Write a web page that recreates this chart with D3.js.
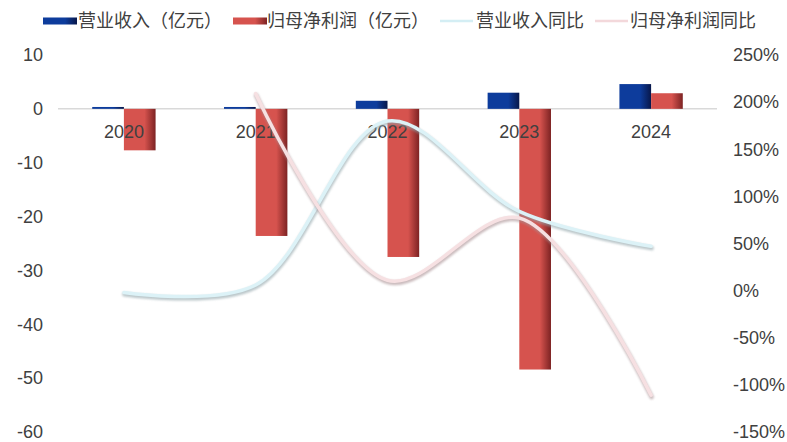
<!DOCTYPE html>
<html>
<head>
<meta charset="utf-8">
<script src="https://cdn.jsdelivr.net/npm/d3@7"></script>
<style>
  body { margin: 0; background: #fff; }
  svg { display: block; font-family: "Liberation Sans", Arial, "Noto Sans CJK SC", sans-serif; }
</style>
</head>
<body>
<div id="chart"></div>
<script>
// data
const years = ['2020', '2021', '2022', '2023', '2024']
const revenue = [0.35, 0.35, 1.5, 3.0, 4.6]          // 营业收入（亿元）
const netProfit = [-7.7, -23.6, -27.5, -48.4, 2.9]   // 归母净利润（亿元）
const revenueYoY = [-2, 6, 180, 84, 47]              // 营业收入同比 (%)
const profitYoY = [null, 209, 11, 77, -111]          // 归母净利润同比 (%)
const leftTicks = [10, 0, -10, -20, -30, -40, -50, -60]
const rightTicks = [250, 200, 150, 100, 50, 0, -50, -100, -150]

const width = 787
const height = 442
const plot = { left: 58, right: 717, top: 55, bottom: 432 }
const textColor = '#404040'

const svg = d3.select('#chart').append('svg')
  .attr('width', width)
  .attr('height', height)

// gradients for the bars and a soft shadow for the lines
const defs = svg.append('defs')
function barGradient (id, main, edge) {
  let g = defs.append('linearGradient').attr('id', id)
    .attr('x1', 0).attr('x2', 1).attr('y1', 0).attr('y2', 0)
  g.append('stop').attr('offset', '0%').attr('stop-color', main)
  g.append('stop').attr('offset', '65%').attr('stop-color', main)
  g.append('stop').attr('offset', '100%').attr('stop-color', edge)
}
barGradient('gBlue', '#0d3c9c', '#08174a')
barGradient('gRed', '#d6534e', '#7d2323')

defs.append('filter').attr('id', 'blur')
  .append('feGaussianBlur').attr('stdDeviation', 1.2)

// scales
const x = d3.scaleBand().domain(years).range([plot.left, plot.right])
const xSub = d3.scaleBand().domain(['rev', 'np'])
  .range([0, x.bandwidth()]).paddingInner(0).paddingOuter(1.08)
const yL = d3.scaleLinear().domain([-60, 10]).range([plot.bottom, plot.top])
const yR = d3.scaleLinear().domain([-150, 250]).range([plot.bottom, plot.top])

// left axis labels
svg.append('g').selectAll('text').data(leftTicks).join('text')
  .attr('x', 43)
  .attr('y', d => yL(d))
  .attr('dy', '0.35em')
  .attr('text-anchor', 'end')
  .attr('font-size', 18)
  .attr('fill', textColor)
  .text(d => d)

// right axis labels
svg.append('g').selectAll('text').data(rightTicks).join('text')
  .attr('x', 733)
  .attr('y', d => yR(d))
  .attr('dy', '0.35em')
  .attr('font-size', 18)
  .attr('fill', textColor)
  .text(d => d + '%')

// zero line
svg.append('line')
  .attr('x1', plot.left).attr('x2', plot.right)
  .attr('y1', yL(0)).attr('y2', yL(0))
  .attr('stroke', '#d9d9d9')
  .attr('stroke-width', 1.5)

// bars
const bars = svg.append('g')
function drawBars (values, key, fill) {
  bars.selectAll('rect.' + key).data(values).join('rect')
    .attr('class', key)
    .attr('x', (d, i) => x(years[i]) + xSub(key))
    .attr('width', xSub.bandwidth())
    .attr('y', d => Math.min(yL(d), yL(0)))
    .attr('height', d => Math.abs(yL(d) - yL(0)))
    .attr('fill', fill)
}
drawBars(revenue, 'rev', 'url(#gBlue)')
drawBars(netProfit, 'np', 'url(#gRed)')

// category labels
svg.append('g').selectAll('text').data(years).join('text')
  .attr('x', d => x(d) + x.bandwidth() / 2)
  .attr('y', 132)
  .attr('dy', '0.35em')
  .attr('text-anchor', 'middle')
  .attr('font-size', 18)
  .attr('fill', textColor)
  .text(d => d)

// smoothed lines with a faint shadow
const line = d3.line()
  .defined(d => d.v != null)
  .x(d => x(d.year) + x.bandwidth() / 2)
  .y(d => yR(d.v))
  .curve(d3.curveCatmullRom.alpha(0.5))

function drawLine (values, color, shadow) {
  let pts = values.map((v, i) => ({ year: years[i], v: v }))
  svg.append('path').datum(pts)
    .attr('d', line)
    .attr('fill', 'none')
    .attr('stroke', shadow)
    .attr('stroke-width', 4.5)
    .attr('stroke-linecap', 'round')
    .attr('opacity', 0.6)
    .attr('filter', 'url(#blur)')
    .attr('transform', 'translate(0.5, 1.8)')
  svg.append('path').datum(pts)
    .attr('d', line)
    .attr('fill', 'none')
    .attr('stroke', color)
    .attr('stroke-width', 3.5)
    .attr('stroke-linecap', 'round')
}
drawLine(revenueYoY, '#dcf2f7', '#8fa3a8')
drawLine(profitYoY, '#f6e0e2', '#a88f92')

// legend
const legend = [
  { name: '营业收入（亿元）', type: 'rect', color: 'url(#gBlue)', x: 43, tx: 78 },
  { name: '归母净利润（亿元）', type: 'rect', color: 'url(#gRed)', x: 233, tx: 267 },
  { name: '营业收入同比', type: 'line', color: '#d4eef4', x: 440, tx: 476 },
  { name: '归母净利润同比', type: 'line', color: '#f3d8db', x: 595, tx: 630 }
]
const lg = svg.append('g').selectAll('g').data(legend).join('g')
lg.filter(d => d.type === 'rect').append('rect')
  .attr('x', d => d.x).attr('y', 17.5)
  .attr('width', 34).attr('height', 7)
  .attr('fill', d => d.color)
lg.filter(d => d.type === 'line').append('line')
  .attr('x1', d => d.x).attr('x2', d => d.x + 33)
  .attr('y1', 21).attr('y2', 21)
  .attr('stroke', d => d.color)
  .attr('stroke-width', 2.5)
lg.append('text')
  .attr('x', d => d.tx)
  .attr('y', 21)
  .attr('dy', '0.35em')
  .attr('font-size', 18)
  .attr('font-family', '"Noto Sans CJK SC", sans-serif')
  .attr('fill', textColor)
  .text(d => d.name)
</script>
</body>
</html>
